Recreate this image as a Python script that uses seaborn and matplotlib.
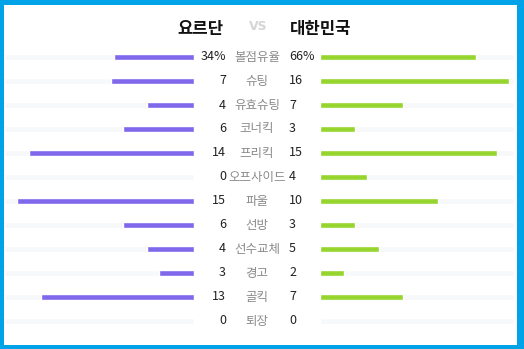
import numpy as np
import pandas as pd
import matplotlib
matplotlib.use("Agg")
import matplotlib.pyplot as plt
import seaborn as sns

# stats per row (top to bottom)
labels = ['볼점유율', '슈팅', '유효슈팅', '코너킥', '프리킥', '오프사이드',
          '파울', '선방', '선수교체', '경고', '골킥', '퇴장']
jordan = [34, 7, 4, 6, 14, 0, 15, 6, 4, 3, 13, 0]
korea = [66, 16, 7, 3, 15, 4, 10, 3, 5, 2, 7, 0]
team_left = '요르단'
team_right = '대한민국'

# possession is shown in %, bars use it scaled down by 5
scale = [0.2] + [1] * (len(labels) - 1)

df = pd.DataFrame({
    'label': labels,
    'left': np.array(jordan) * np.array(scale),
    'right': np.array(korea) * np.array(scale),
})

sns.set_theme(style='white')
plt.rcParams['font.family'] = ['Noto Sans CJK KR', 'DejaVu Sans']

W, H = 524, 349
fig = plt.figure(figsize=(W / 100, H / 100), dpi=100)
fig.patch.set_facecolor('#00A3E8')

# white panel inside the blue frame
bg = fig.add_axes([4 / W, 4 / H, (W - 11) / W, (H - 9) / H])
bg.set_facecolor('white')
bg.set_xticks([])
bg.set_yticks([])
for s in bg.spines.values():
    s.set_visible(False)

purple = '#8068EC'
green = '#96D52E'
track = '#F7F8FA'
unit = 11.8  # px per unit
row_h = 24
top_row = 57
n = len(labels)

y0 = H - (top_row + (n - 1) * row_h + row_h / 2)
ah = n * row_h

def side_axes(x0, x1):
    ax = fig.add_axes([x0 / W, y0 / H, (x1 - x0) / W, ah / H])
    ax.set_facecolor('none')
    ax.set_xlim(0, (x1 - x0) / unit)
    return ax

axl = side_axes(4, 194)
axr = side_axes(320, 514)
axl.invert_xaxis()

for ax, col, color in [(axl, 'left', purple), (axr, 'right', green)]:
    full = ax.get_xlim()[0] if ax is axl else ax.get_xlim()[1]
    sns.barplot(x=[full] * n, y=df['label'], orient='h', color=track,
                width=0.25, ax=ax, saturation=1)
    sns.barplot(data=df, x=col, y='label', orient='h', color=color,
                width=0.25, ax=ax, saturation=1)
    ax.set_ylim(n - 0.5, -0.5)
    ax.set_xlabel('')
    ax.set_ylabel('')
    ax.set_xticks([])
    ax.set_yticks([])
    for s in ax.spines.values():
        s.set_visible(False)

# center texts
for i, lab in enumerate(labels):
    yy = 1 - (top_row + i * row_h) / H
    lv = f'{jordan[i]}%' if i == 0 else str(jordan[i])
    rv = f'{korea[i]}%' if i == 0 else str(korea[i])
    fig.text(226 / W, yy, lv, ha='right', va='center', fontsize=9, color='#222222')
    fig.text(257 / W, yy, lab, ha='center', va='center', fontsize=9, color='#8A8A8A')
    fig.text(289 / W, yy, rv, ha='left', va='center', fontsize=9, color='#222222')

# header
fig.text(200 / W, 1 - 29 / H, team_left, ha='center', va='center',
         fontsize=12, fontweight='bold', color='#111111')
fig.text(321 / W, 1 - 29 / H, team_right, ha='center', va='center',
         fontsize=12, fontweight='bold', color='#111111')
fig.text(258 / W, 1 - 26 / H, 'VS', ha='center', va='center', fontsize=9,
         fontweight='bold', color='#D5D5D8', family='DejaVu Sans')

fig.savefig('out.png', dpi=100)
